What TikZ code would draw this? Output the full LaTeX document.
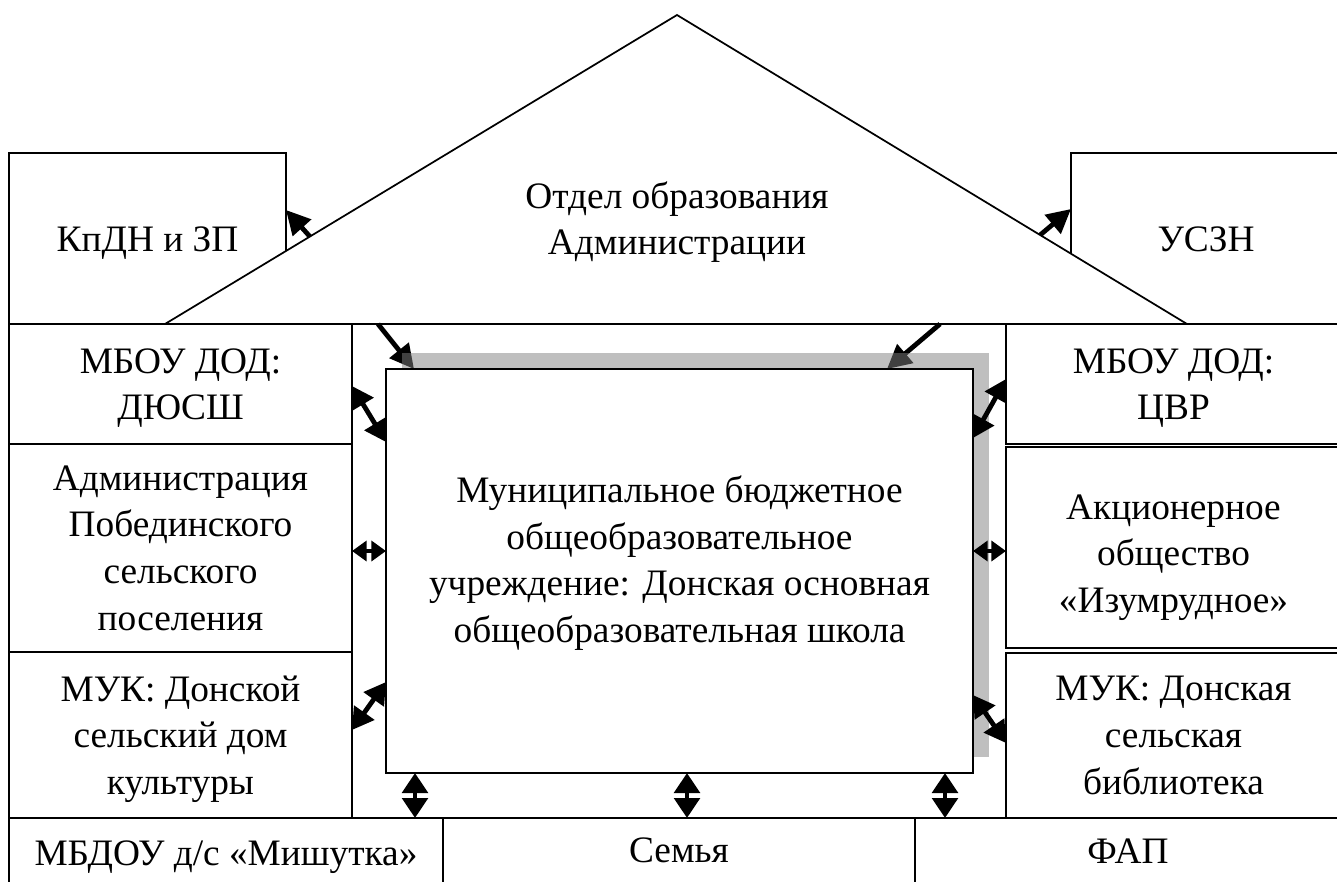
\documentclass[tikz,border=0pt]{standalone}
\usepackage{fontspec}
\setmainfont{Liberation Serif}
\usetikzlibrary{arrows.meta,calc}
% rbox{name}{x1}{y1}{x2}{y2}{text y offset}{text}
\newcommand\rbox[7]{\node[box, minimum width={(#4-#2)*0.75pt}, minimum height={(#5-#3)*0.75pt}] (#1) at ({(#2+#4)/2},{(#3+#5)/2}) {};
  \node (#1t) at ($(#1.center)+(0,#6)$) {#7};}
\begin{document}
\begin{tikzpicture}[x=0.75pt,y=-0.75pt,
  every node/.style={font=\fontsize{28}{35}\selectfont, align=center},
  box/.style={draw, line width=1.5pt, fill=white, inner sep=0pt, outer sep=0pt},
  tri/.style={draw, line width=1.3pt, fill=white},
  arr/.style={line width=3.6pt, -{Triangle[length=18pt,width=18pt]}},
  darr/.style={line width=3.6pt, {Triangle[length=16pt,width=18pt]}-{Triangle[length=16pt,width=18pt]}},
  vdarr/.style={line width=3.5pt, {Triangle[length=15pt,width=19pt]}-{Triangle[length=15pt,width=19pt]}},
  sdarr/.style={line width=3pt, {Triangle[length=11pt,width=15pt]}-{Triangle[length=11pt,width=15pt]}},
  shadow/.style={fill=gray, opacity=0.5},
]
\useasboundingbox (0,0) rectangle (1337,881);
\fill[white] (0,0) rectangle (1337,881);
% top side boxes
\rbox{kpdn}{9}{153}{286}{324}{5}{КпДН и ЗП}
\rbox{usczn}{1071}{153}{1341}{324}{1}{УСЗН}
% triangle
\coordinate (apex) at (677,15);
\coordinate (bl) at (165,324);
\coordinate (br) at (1187,324);
\draw[tri] (bl) -- (apex) -- (br) -- cycle;
\node (otdel) at (677,222) {Отдел образования\\Администрации};
% left column
\rbox{dyussh}{9}{324}{352}{444}{4}{МБОУ ДОД:\\ДЮСШ}
\rbox{admin}{9}{444}{352}{652}{0}{Администрация\\Побединского\\сельского\\поселения}
\rbox{mukdk}{9}{652}{352}{818}{4}{МУК: Донской\\сельский дом\\культуры}
% right column
\rbox{cvr}{1006}{324}{1341}{444}{4}{МБОУ ДОД:\\ЦВР}
\rbox{ao}{1006}{447}{1341}{648}{10}{Акционерное\\общество\\«Изумрудное»}
\rbox{mukb}{1006}{653}{1341}{818}{0}{МУК: Донская\\сельская\\библиотека}
% bottom row
\rbox{mish}{9}{818}{443}{885}{6}{МБДОУ д/с «Мишутка»}
\rbox{semya}{443}{818}{915}{885}{-1}{Семья}
\rbox{fap}{915}{818}{1341}{885}{0}{ФАП}
% arrows from the department
\draw[arr] ($(bl)!0.283!(apex)$) -- (kpdn.east |- 0,210);
\draw[arr] ($(apex)!0.712!(br)$) -- (usczn.west |- 0,209);
\draw[arr] (378,0 |- bl) -- (414,369);
\draw[arr] (940,0 |- bl) -- (887,369);
% shadow and main box
\fill[shadow] (402,353) rectangle (989,757);
\rbox{big}{386}{369}{973}{773}{-8}{Муниципальное бюджетное\\общеобразовательное\\учреждение: Донская основная\\общеобразовательная школа}
% side arrows
\draw[darr] (dyussh.east |- 0,386) -- (big.west |- 0,442);
\draw[darr] (cvr.west |- 0,379) -- (big.east |- 0,438);
\draw[sdarr] (admin.east |- 0,551) -- (big.west |- 0,551);
\draw[sdarr] (big.east |- 0,551) -- (ao.west |- 0,551);
\draw[darr] (mukdk.east |- 0,730) -- (big.west |- 0,682);
\draw[darr] (big.east |- 0,695) -- (mukb.west |- 0,743);
% bottom arrows
\draw[vdarr] (415,0 |- big.south) -- (415,0 |- mish.north);
\draw[vdarr] (687,0 |- big.south) -- (687,0 |- semya.north);
\draw[vdarr] (945,0 |- big.south) -- (945,0 |- fap.north);
\end{tikzpicture}
\end{document}
